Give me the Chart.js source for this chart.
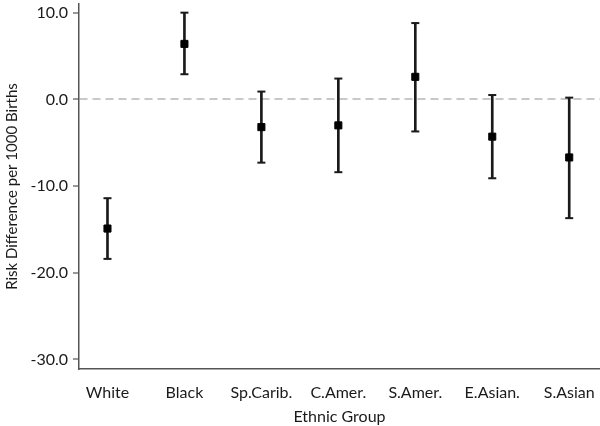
<!DOCTYPE html>
<html>
<head>
<meta charset="utf-8">
<script src="https://cdn.jsdelivr.net/npm/chart.js@4"></script>
<style>
  body { margin: 0; background: #fff; }
  #wrap { width: 600px; height: 426px; position: relative; }
</style>
</head>
<body>
<div id="wrap"><canvas id="riskChart"></canvas></div>
<script>
// categories and values (risk difference per 1000 births, 95% CI)
var groups = ["White", "Black", "Sp.Carib.", "C.Amer.", "S.Amer.", "E.Asian.", "S.Asian"];
var estimate = [-14.9, 6.4, -3.2, -3.0, 2.6, -4.3, -6.7];
var lower = [-18.4, 2.9, -7.3, -8.4, -3.7, -9.1, -13.7];
var upper = [-11.4, 10.0, 0.9, 2.4, 8.8, 0.5, 0.2];
var yTicks = [-30, -20, -10, 0, 10];

(function () {
  "use strict";

  var FONT = "Lato, 'DejaVu Sans', sans-serif";
  var ink = "#1a1a1a";
  var axisGrey = "#555555";

  var whiskers = [];
  var caps = [];
  var points = [];
  for (var i = 0; i < groups.length; i++) {
    whiskers.push({ x: i + 1, y: [lower[i], upper[i]] });
    caps.push({ x: i + 1, y: lower[i] });
    caps.push({ x: i + 1, y: upper[i] });
    points.push({ x: i + 1, y: estimate[i] });
  }

  var ctx = document.getElementById("riskChart").getContext("2d");

  new Chart(ctx, {
    type: "scatter",
    data: {
      datasets: [
        {
          type: "bar",
          data: whiskers,
          backgroundColor: ink,
          borderWidth: 0,
          barThickness: 2,
          order: 3,
        },
        {
          type: "scatter",
          data: caps,
          pointStyle: "line",
          radius: 4,
          borderColor: ink,
          borderWidth: 2,
          order: 2,
        },
        {
          type: "scatter",
          data: points,
          pointStyle: "rect",
          radius: 5,
          backgroundColor: "#000",
          borderColor: "#000",
          borderWidth: 1,
          order: 1,
        },
      ],
    },
    options: {
      responsive: true,
      maintainAspectRatio: false,
      animation: false,
      layout: { autoPadding: false, padding: { top: 4, right: 0, left: 0, bottom: 0 } },
      plugins: {
        legend: { display: false },
        tooltip: { enabled: false },
      },
      scales: {
        x: {
          type: "linear",
          min: 0.63,
          max: 7.4,
          offset: false,
          afterBuildTicks: function (axis) {
            axis.ticks = groups.map(function (g, i) { return { value: i + 1 }; });
          },
          afterFit: function (axis) {
            axis.height = 57;
            axis.paddingLeft = 0;
            axis.paddingRight = 0;
          },
          grid: { display: false },
          border: { display: true, color: axisGrey, width: 1.5 },
          ticks: {
            autoSkip: false,
            maxRotation: 0,
            padding: 6,
            color: ink,
            font: { family: FONT, size: 16 },
            callback: function (v) { return groups[v - 1]; },
          },
          title: {
            display: true,
            text: "Ethnic Group",
            color: ink,
            font: { family: FONT, size: 16 },
            padding: { top: 0, bottom: 0 },
          },
        },
        y: {
          min: -31.1,
          max: 11,
          afterBuildTicks: function (axis) {
            axis.ticks = yTicks.map(function (v) { return { value: v }; });
          },
          afterFit: function (axis) {
            axis.width = 79;
            axis.paddingTop = 0;
            axis.paddingBottom = 0;
          },
          grid: {
            drawTicks: true,
            tickLength: 6,
            lineWidth: 2,
            color: function (c) {
              return c.tick && c.tick.value === 0 ? "#c8c8c8" : "rgba(0,0,0,0)";
            },
            tickColor: axisGrey,
            tickWidth: 1.2,
          },
          border: { display: true, color: axisGrey, width: 1.5, dash: [8, 5] },
          ticks: {
            padding: 5,
            color: ink,
            font: { family: FONT, size: 16 },
            callback: function (v) { return v.toFixed(1); },
          },
          title: {
            display: true,
            text: "Risk Difference per 1000 Births",
            color: ink,
            font: { family: FONT, size: 15 },
            padding: { top: 3, bottom: 0 },
          },
        },
      },
    },
  });
})();
</script>
</body>
</html>
